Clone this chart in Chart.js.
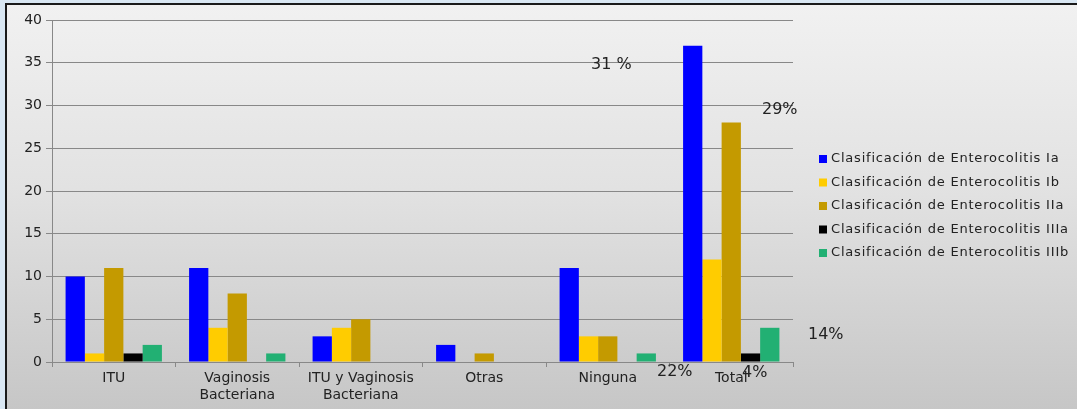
<!DOCTYPE html>
<html>
<head>
<meta charset="utf-8">
<script src="https://cdn.jsdelivr.net/npm/chart.js@4.4.1/dist/chart.umd.min.js"></script>
<style>
  html, body { margin: 0; padding: 0; }
  body { width: 1077px; height: 409px; background: #d9e7f3; overflow: hidden; position: relative; }
  #frame {
    position: absolute; left: 5px; top: 3px; width: 1072px; height: 406px;
    border-top: 2px solid #1a1a1a; border-left: 2px solid #1a1a1a;
    background: linear-gradient(to bottom, #f1f1f1 0%, #e2e2e2 45%, #c6c6c6 100%);
  }
  #chart { display: block; }
</style>
</head>
<body>
<div id="frame"><canvas id="chart" width="1070" height="404"></canvas></div>
<script>
'use strict';

// categories and series
let categories = ['ITU', ['Vaginosis', 'Bacteriana'], ['ITU y Vaginosis', 'Bacteriana'], 'Otras', 'Ninguna', 'Total'];
let seriesNames = [
  'Clasificación de Enterocolitis Ia',
  'Clasificación de Enterocolitis Ib',
  'Clasificación de Enterocolitis IIa',
  'Clasificación de Enterocolitis IIIa',
  'Clasificación de Enterocolitis IIIb'
];
let valuesIa = [10, 11, 3, 2, 11, 37];
let valuesIb = [1, 4, 4, 0, 3, 12];
let valuesIIa = [11, 8, 5, 1, 3, 28];
let valuesIIIa = [1, 0, 0, 0, 0, 1];
let valuesIIIb = [2, 1, 0, 0, 1, 4];
let seriesColors = ['#0000ff', '#ffcc00', '#c49a00', '#000000', '#22b073'];
let yTicks = [0, 5, 10, 15, 20, 25, 30, 35, 40];
let notes = ['31 %', '29%', '14%', '22%', '4%'];

let allValues = [valuesIa, valuesIb, valuesIIa, valuesIIIa, valuesIIIb];
let datasets = [];
for (let i = 0; i < seriesNames.length; i++) {
  datasets.push({
    label: seriesNames[i],
    data: allValues[i],
    backgroundColor: seriesColors[i],
    borderWidth: 0,
    barPercentage: 1,
    categoryPercentage: 0.78
  });
}

// legend on the right, drawn by hand
const sideLegend = {
  id: 'sideLegend',
  afterDraw(chart) {
    const c = chart.ctx;
    c.save();
    c.font = '13px "DejaVu Sans"';
    c.letterSpacing = '0.8px';
    c.textBaseline = 'middle';
    chart.data.datasets.forEach((ds, i) => {
      let y = 154 + i * 23.5;
      c.fillStyle = ds.backgroundColor;
      c.fillRect(812, y - 4, 8, 8);
      c.fillStyle = '#222';
      c.fillText(ds.label, 824, y);
    });
    c.restore();
  }
};

// loose percentage texts
const percentNotes = {
  id: 'percentNotes',
  afterDraw(chart) {
    const c = chart.ctx;
    const spots = [[584, 60], [755, 105], [801, 330], [650, 367], [735, 368]];
    c.save();
    c.font = '16px "DejaVu Sans"';
    c.fillStyle = '#222';
    c.textBaseline = 'middle';
    notes.forEach((t, i) => c.fillText(t, spots[i][0], spots[i][1]));
    c.restore();
  }
};

const ctx = document.getElementById('chart');
new Chart(ctx, {
  type: 'bar',
  data: { labels: categories, datasets: datasets },
  options: {
    responsive: false,
    animation: false,
    layout: { padding: { top: 15, right: 284, left: 0, bottom: 0 } },
    plugins: { legend: { display: false }, tooltip: { enabled: false } },
    scales: {
      x: {
        afterFit: (scale) => { scale.height = 47; },
        grid: { offset: true, drawOnChartArea: false, drawTicks: true, tickLength: 5, color: '#888' },
        border: { color: '#888', width: 1 },
        ticks: { color: '#222', font: { family: 'DejaVu Sans', size: 14, lineHeight: 1.2 }, maxRotation: 0, autoSkip: false, padding: 3 }
      },
      y: {
        min: 0,
        max: 40,
        afterFit: (scale) => { scale.width = 45; },
        afterBuildTicks: (scale) => { scale.ticks = yTicks.map(v => ({ value: v })); },
        grid: { color: '#888', tickLength: 6 },
        border: { color: '#888', width: 1 },
        ticks: { color: '#222', font: { family: 'DejaVu Sans', size: 14 }, padding: 4 }
      }
    }
  },
  plugins: [sideLegend, percentNotes]
});
</script>
</body>
</html>
